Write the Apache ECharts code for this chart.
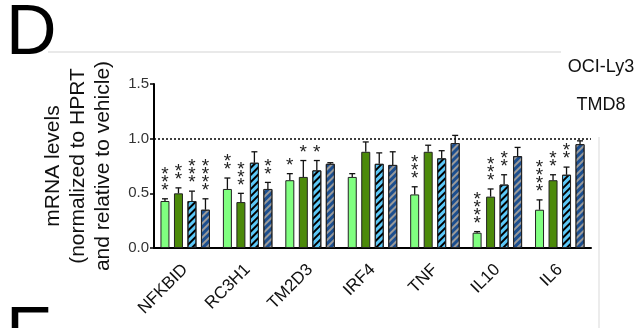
<!DOCTYPE html>
<html><head><meta charset="utf-8">
<script src="https://cdn.jsdelivr.net/npm/echarts@6/dist/echarts.min.js"></script>
<style>html,body{margin:0;padding:0;background:#fff}#c{width:638px;height:328px}</style>
</head><body><div id="c"></div>
<script>
var categories = ['NFKBID','RC3H1','TM2D3','IRF4','TNF','IL10','IL6'];
var seriesNames = ['OCI-Ly3 A','OCI-Ly3 B','TMD8 A','TMD8 B'];
var meanLG = [0.43, 0.54, 0.62, 0.65, 0.49, 0.14, 0.35];
var meanDG = [0.50, 0.42, 0.65, 0.88, 0.88, 0.47, 0.62];
var meanLB = [0.43, 0.78, 0.71, 0.77, 0.82, 0.58, 0.67];
var meanDB = [0.35, 0.54, 0.77, 0.76, 0.96, 0.84, 0.95];
var errLG = [0.02, 0.10, 0.06, 0.03, 0.07, 0.01, 0.09];
var errDG = [0.05, 0.08, 0.15, 0.09, 0.06, 0.07, 0.05];
var errLB = [0.09, 0.10, 0.09, 0.10, 0.07, 0.09, 0.07];
var errDB = [0.10, 0.06, 0.01, 0.12, 0.07, 0.08, 0.03];
var starsLG = ['***','**','*','','***','****','****'];
var starsDG = ['**','***','*','','','***','**'];
var starsLB = ['***','','*','','','**','**'];
var starsDB = ['****','**','','','','',''];
var yTicks = [0, 0.5, 1.0, 1.5];
var refLine = 1.0;

var BAR_W = 9, GAP_RATIO = 0.5;
var means = [meanLG, meanDG, meanLB, meanDB];
var errs = [errLG, errDG, errLB, errDB];
var stars = [starsLG, starsDG, starsLB, starsDB];
var fills = ['#80FF80', '#4C8A0A', '#5CC8F8', '#1C4E8E'];
var decals = [null, null,
  {symbol:'rect', symbolSize:1, dashArrayX:[[1,0]], dashArrayY:[2,3], rotation:-Math.PI/4, color:'#000'},
  {symbol:'rect', symbolSize:1, dashArrayX:[[1,0]], dashArrayY:[2,3], rotation:-Math.PI/4, color:'#9a9a9a'}];
var FONT = 'Liberation Sans, Arial';

var chart = echarts.init(document.getElementById('c'));
var series = [];
means.forEach(function(m, si){
  var s = {
    type:'bar', name: seriesNames[si], data: m, barWidth: BAR_W, barGap: (GAP_RATIO*100)+'%',
    itemStyle: {color: fills[si], borderColor:'#222', borderWidth:1},
    z: 2
  };
  if (decals[si]) s.itemStyle.decal = decals[si];
  if (si === 0) s.markLine = {silent:true, symbol:'none', label:{show:false},
    lineStyle:{type:[2,2], color:'#000', width:1.5}, data:[{yAxis: refLine}]};
  series.push(s);
});
means.forEach(function(m, si){
  series.push({
    type:'custom', z: 5,
    data: m.map(function(v,i){ return [i, v, errs[si][i]]; }),
    renderItem: function(params, api){
      var ci = api.value(0), mv = api.value(1), ev = api.value(2);
      var b = api.coord([ci, mv]), t = api.coord([ci, mv+ev]);
      var gap = BAR_W*GAP_RATIO, n = means.length;
      var total = n*BAR_W + (n-1)*gap;
      var x = b[0] - total/2 + si*(BAR_W+gap) + BAR_W/2;
      var st = stars[si][params.dataIndex];
      var ch = [
        {type:'line', shape:{x1:x, y1:b[1], x2:x, y2:t[1]}, style:{stroke:'#111', lineWidth:1.3}},
        {type:'line', shape:{x1:x-3, y1:t[1], x2:x+3, y2:t[1]}, style:{stroke:'#111', lineWidth:1.3}}
      ];
      if (st) {
        ch.push({type:'text', x:x, y:t[1]-4, style:{text: st.split('').join('\n'), fontSize:19,
          fontFamily:FONT, fill:'#222', align:'center', verticalAlign:'bottom', lineHeight:8}});
      }
      return {type:'group', children: ch};
    }
  });
});

chart.setOption({
  animation:false,
  grid:{left:154, right:47, top:84, bottom:80},
  xAxis:{type:'category', data:categories, boundaryGap:true,
    axisLine:{lineStyle:{color:'#000', width:2}},
    axisTick:{alignWithLabel:true, length:5, lineStyle:{color:'#000', width:2}},
    axisLabel:{rotate:45, fontSize:17, color:'#111', fontFamily:FONT, margin:19}},
  yAxis:{type:'value', min:yTicks[0], max:yTicks[yTicks.length-1], interval:0.5,
    name:'mRNA levels\n(normalized to HPRT\nand relative to vehicle)', nameLocation:'middle', nameGap:38,
    nameTextStyle:{fontSize:21, color:'#111', fontFamily:FONT, lineHeight:25},
    axisLine:{show:true, lineStyle:{color:'#000', width:2}},
    axisTick:{show:true, length:4, lineStyle:{color:'#000', width:1.5}},
    splitLine:{show:false},
    axisLabel:{fontSize:15, color:'#333', fontFamily:FONT, margin:5,
      formatter:function(v){return v.toFixed(1);}}},
  graphic:[
    {type:'text', left:6, top:0, style:{text:'D', fontSize:70, fontFamily:FONT, fill:'#000'}},
    {type:'line', shape:{x1:48, y1:52, x2:561, y2:52}, style:{stroke:'#e2e2e2', lineWidth:1.5}},
    {type:'line', shape:{x1:599, y1:137, x2:599, y2:328}, style:{stroke:'#e6e6e6', lineWidth:1.5}},
    {type:'text', x:601, y:67, style:{text:'OCI-Ly3', fontSize:18, fontFamily:FONT, fill:'#111', align:'center', verticalAlign:'middle'}},
    {type:'text', x:601, y:105, style:{text:'TMD8', fontSize:18, fontFamily:FONT, fill:'#111', align:'center', verticalAlign:'middle'}},
    {type:'text', left:6, top:302, style:{text:'E', fontSize:70, fontFamily:FONT, fill:'#000'}}
  ],
  series: series
});
</script></body></html>
